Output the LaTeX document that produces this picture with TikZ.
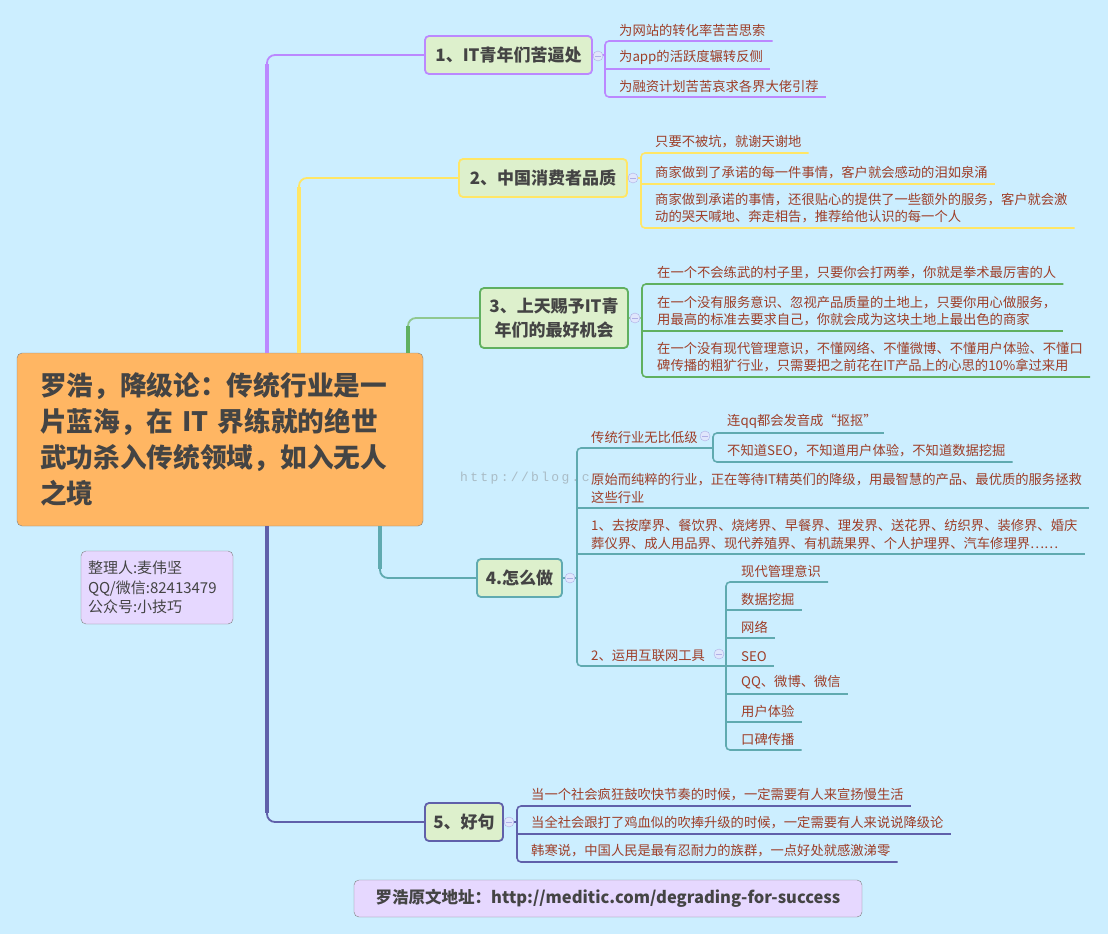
\documentclass[tikz,border=0pt]{standalone}
\usepackage{fontspec}
\setmainfont{Noto Sans CJK SC}
\newfontfamily\wmfont[LetterSpace=18]{Liberation Mono}
\usetikzlibrary{positioning}

\definecolor{bgblue}{RGB}{204,238,255}
\definecolor{rootorange}{RGB}{255,182,99}
\definecolor{topicgreen}{RGB}{221,240,204}
\definecolor{notelilac}{RGB}{230,216,255}
\definecolor{textgray}{RGB}{68,68,68}
\definecolor{itemred}{RGB}{158,62,40}
\definecolor{violetline}{RGB}{187,136,255}
\definecolor{yellowline}{RGB}{255,230,102}
\definecolor{greenline}{RGB}{96,176,96}
\definecolor{tealline}{RGB}{96,170,176}
\definecolor{navyline}{RGB}{96,96,170}
\definecolor{foldline}{RGB}{175,175,230}
\definecolor{foldfill}{RGB}{224,230,252}

\begin{document}
\begin{tikzpicture}[
    x=1pt, y=-1pt,
    root/.style={draw=gray, fill=rootorange, rounded corners=5pt, minimum width=406pt,
      minimum height=173pt, inner xsep=23pt, text width=360pt, align=left,
      font=\fontsize{26.7}{36}\selectfont\bfseries, text=textgray},
    topic/.style={draw=#1, fill=topicgreen, line width=1.8pt, rounded corners=4pt,
      minimum height=38pt, inner xsep=6pt, align=center,
      font=\fontsize{17}{24}\selectfont\bfseries, text=textgray},
    note/.style={draw=gray, fill=notelilac, rounded corners=5pt, align=left, text=textgray},
    item/.style={anchor=south west, inner xsep=0pt, inner ysep=4.5pt, align=left,
      font=\fontsize{13.3}{17.5}\selectfont, text=itemred},
    ul/.style={draw=#1, line width=1.6pt},
    brace/.style={draw=#1, line width=1.6pt, rounded corners=4pt},
    trunk/.style={draw=#1, line width=1.8pt, rounded corners=8pt},
    stem/.style={draw=#1, line width=4.5pt},
    fold/.style={circle, draw=foldline, fill=foldfill, inner sep=0pt, minimum size=10pt,
      path picture={\draw[foldline, line width=0.7pt]
        ([xshift=-2.6pt]path picture bounding box.center) --
        ([xshift=2.6pt]path picture bounding box.center);}},
  ]

  % canvas
  \fill[bgblue] (0,0) rectangle (1108,934);
  \useasboundingbox (0,0) rectangle (1108,934);

  % watermark
  \node[anchor=west, inner sep=0pt, text=gray!45!bgblue, font=\wmfont\fontsize{13}{13}\selectfont]
    (wm) at (460,478) {http://blog.c};

  % centre
  \node[root] (root) at (220,439.5) {罗浩，降级论：传统行业是一\\片蓝海，在 IT 界练就的绝世\\武功杀入传统领域，如入无人\\之境};
  \node[note, minimum width=152pt, minimum height=73pt, inner xsep=7pt, text width=138pt,
    font=\fontsize{15}{19.5}\selectfont] (who) at (157,587.5)
    {整理人:麦伟坚\\QQ/微信:82413479\\公众号:小技巧};
  \node[note, minimum width=508pt, minimum height=37pt, align=center,
    font=\fontsize{16.5}{20}\selectfont\bfseries] (src) at (608,898.5)
    {罗浩原文地址：http://meditic.com/degrading-for-success};

  % topics
  \node[topic=violetline, minimum width=167pt] (n1) at (508.5,55) {1、IT青年们苦逼处};
  \node[topic=yellowline, minimum width=168pt] (n2) at (543,178) {2、中国消费者品质};
  \node[topic=greenline, minimum width=148pt, minimum height=60pt] (n3) at (554,318) {3、上天赐予IT青\\年们的最好机会};
  \node[topic=tealline, minimum width=85pt] (n4) at (519.5,578) {4.怎么做};
  \node[topic=navyline, minimum width=78pt] (n5) at (464,822) {5、好句};

  % trunks
  \coordinate (t1) at (267,0);
  \coordinate (t2) at (299,0);
  \coordinate (t3) at (408,0);
  \coordinate (t4) at (380,0);
  \coordinate (t5) at (267,0);
  \draw[trunk=violetline] (n1.west) -| (root.north -| t1);
  \draw[stem=violetline] ([yshift=-9pt]n1.west -| t1) -- (root.north -| t1);
  \draw[trunk=yellowline] (n2.west) -| (root.north -| t2);
  \draw[stem=yellowline] ([yshift=-9pt]n2.west -| t2) -- (root.north -| t2);
  \draw[trunk=greenline!70!white] (n3.west) -| (root.north -| t3);
  \draw[stem=greenline] ([yshift=-8pt]n3.west -| t3) -- (root.north -| t3);
  \draw[trunk=tealline] (root.south -| t4) |- (n4.west);
  \draw[stem=tealline] (root.south -| t4) -- ([yshift=9pt]n4.west -| t4);
  \draw[trunk=navyline] (root.south -| t5) |- (n5.west);
  \draw[stem=navyline] (root.south -| t5) -- ([yshift=9pt]n5.west -| t5);

  % 1
  \coordinate (k1) at (605,0);
  \node[item] (a1) at (619,41) {为网站的转化率苦苦思索};
  \node[item] (a2) at (619,69) {为app的活跃度辗转反侧};
  \node[item] (a3) at (619,97) {为融资计划苦苦哀求各界大佬引荐};
  \draw[ul=violetline] (n1.east) -- (n1.east -| k1);
  \draw[brace=violetline] ([xshift=7pt]a1.south east) -- (a1.south -| k1) -- (a3.south -| k1) -- ([xshift=7pt]a3.south east);
  \draw[ul=violetline] (a2.south -| k1) -- ([xshift=7pt]a2.south east);
  \node[fold] (f1) at (598,56) {};

  % 2
  \coordinate (k2) at (641,0);
  \node[item] (b1) at (655,153) {只要不被坑，就谢天谢地};
  \node[item] (b2) at (655,184) {商家做到了承诺的每一件事情，客户就会感动的泪如泉涌};
  \node[item] (b3) at (655,228) {商家做到承诺的事情，还很贴心的提供了一些额外的服务，客户就会激\\动的哭天喊地、奔走相告，推荐给他认识的每一个人};
  \draw[ul=yellowline] (n2.east) -- (n2.east -| k2);
  \draw[brace=yellowline] ([xshift=7pt]b1.south east) -- (b1.south -| k2) -- (b3.south -| k2) -- ([xshift=7pt]b3.south east);
  \draw[ul=yellowline] (b2.south -| k2) -- ([xshift=7pt]b2.south east);
  \node[fold] (f2) at (633,178) {};

  % 3
  \coordinate (k3) at (642,0);
  \node[item] (c1) at (657,284) {在一个不会练武的村子里，只要你会打两拳，你就是拳术最厉害的人};
  \node[item] (c2) at (657,331) {在一个没有服务意识、忽视产品质量的土地上，只要你用心做服务，\\用最高的标准去要求自己，你就会成为这块土地上最出色的商家};
  \node[item] (c3) at (657,377) {在一个没有现代管理意识，不懂网络、不懂微博、不懂用户体验、不懂口\\碑传播的粗犷行业，只需要把之前花在IT产品上的心思的10\%拿过来用};
  \draw[ul=greenline!70!white] (n3.east) -- (n3.east -| k3);
  \draw[brace=greenline] ([xshift=7pt]c1.south east) -- (c1.south -| k3) -- (c3.south -| k3) -- ([xshift=7pt]c3.south east);
  \draw[ul=greenline] (c2.south -| k3) -- ([xshift=7pt]c2.south east);
  \node[fold] (f3) at (635,318) {};

  % 4
  \coordinate (k4) at (577,0);
  \coordinate (k41) at (713,0);
  \coordinate (k42) at (726,0);
  \node[item] (d1) at (591,448) {传统行业无比低级};
  \node[item] (d2) at (591,508) {原始而纯粹的行业，正在等待IT精英们的降级，用最智慧的产品、最优质的服务拯救\\这些行业};
  \node[item] (d3) at (591,554) {1、去按摩界、餐饮界、烧烤界、早餐界、理发界、送花界、纺织界、装修界、婚庆\\葬仪界、成人用品界、现代养殖界、有机蔬果界、个人护理界、汽车修理界……};
  \node[item] (d4) at (591,666) {2、运用互联网工具};
  \draw[ul=tealline] (n4.east) -- (n4.east -| k4);
  \draw[brace=tealline] (d1.south -| k41) -- (d1.south -| k4) -- (d4.south -| k4) -- (d4.south -| k42);
  \foreach \d in {d2,d3}
    \draw[ul=tealline] (\d.south -| k4) -- ([xshift=7pt]\d.south east);
  % 4a
  \node[item] (d11) at (727,433) {连qq都会发音成“抠抠”};
  \node[item] (d12) at (727,462) {不知道SEO，不知道用户体验，不知道数据挖掘};
  \draw[brace=tealline] ([xshift=7pt]d11.south east) -- (d11.south -| k41) -- (d12.south -| k41) -- ([xshift=7pt]d12.south east);
  % 4b
  \node[item] (g1) at (741,582) {现代管理意识};
  \node[item] (g2) at (741,610) {数据挖掘};
  \node[item] (g3) at (741,638) {网络};
  \node[item] (g4) at (741,666) {SEO};
  \node[item] (g5) at (741,694) {QQ、微博、微信};
  \node[item] (g6) at (741,722) {用户体验};
  \node[item] (g7) at (741,750) {口碑传播};
  \draw[brace=tealline] ([xshift=7pt]g1.south east) -- (g1.south -| k42) -- (g7.south -| k42) -- ([xshift=7pt]g7.south east);
  \foreach \g in {g2,g3,g4,g5,g6}
    \draw[ul=tealline] (\g.south -| k42) -- ([xshift=7pt]\g.south east);
  \node[fold] (f4) at (570,578) {};
  \node[fold] (f41) at (705,436) {};
  \node[fold] (f42) at (719,654) {};

  % 5
  \coordinate (k5) at (517,0);
  \node[item] (e1) at (531,806) {当一个社会疯狂鼓吹快节奏的时候，一定需要有人来宣扬慢生活};
  \node[item] (e2) at (531,834) {当全社会跟打了鸡血似的吹捧升级的时候，一定需要有人来说说降级论};
  \node[item] (e3) at (531,862) {韩寒说，中国人民是最有忍耐力的族群，一点好处就感激涕零};
  \draw[ul=navyline] (n5.east) -- (n5.east -| k5);
  \draw[brace=navyline] ([xshift=7pt]e1.south east) -- (e1.south -| k5) -- (e3.south -| k5) -- ([xshift=7pt]e3.south east);
  \draw[ul=navyline] (e2.south -| k5) -- ([xshift=7pt]e2.south east);
  \node[fold] (f5) at (509,822) {};

\end{tikzpicture}
\end{document}
